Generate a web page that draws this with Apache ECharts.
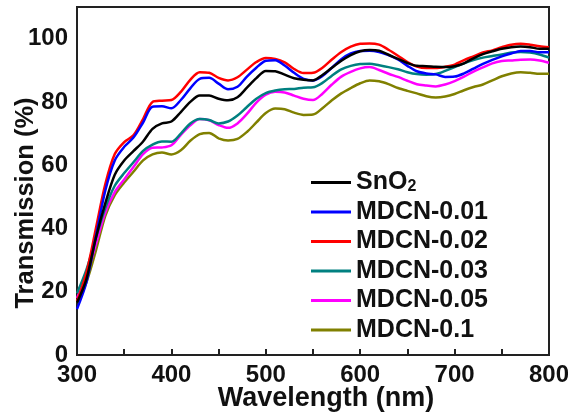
<!DOCTYPE html>
<html>
<head>
<meta charset="utf-8">
<script src="https://cdn.jsdelivr.net/npm/echarts@6/dist/echarts.min.js"></script>
<style>html,body{margin:0;padding:0;background:#fff}#c{width:568px;height:417px}</style>
</head>
<body>
<div id="c"></div>
<script>
const wavelength = [300,310,320,330,340,350,360,370,380,390,400,410,420,430,440,450,460,470,480,490,500,510,520,530,540,550,560,570,580,590,600,610,620,630,640,650,660,670,680,690,700,710,720,730,740,750,760,770,780,790,800];
const seriesNames = ['SnO2','MDCN-0.01','MDCN-0.02','MDCN-0.03','MDCN-0.05','MDCN-0.1'];
const sno2 = [16.5,24,37,48,57,61.5,64.5,67.5,71.5,73.2,73.8,76.8,80,82,82,81,80.5,81.5,84.5,87.5,89.8,89.7,88.6,87.5,87,86.8,88.5,90.8,93,94.8,96,96.4,96.2,94.9,93.6,92.3,91.4,91.3,91.1,91,91.3,92.2,93.8,95.1,96,96.8,97.3,97.5,97.3,96.8,96.8];
const mdcn001 = [14.5,23,37.5,52,61.5,65.8,68.8,73.5,78.5,78.6,78,80.6,84.3,87.3,87.6,85.8,84,84.8,88,90.8,93,93.2,91.5,89.2,87.3,86.8,88.2,90.8,93.5,95.3,96.1,96.2,95.8,94.8,93.4,91.4,89.7,89,88.7,87.9,88,89,90.5,92,93.3,94.4,95.3,96.1,96.1,95.7,95.7];
const mdcn002 = [17,26,40,54,63.5,67.3,69.5,74.6,80,80.4,80.6,83.2,87,89.4,89.2,87.6,86.8,87.8,90.2,92.6,93.9,93.6,92.5,90.4,89.1,89.2,90.8,93.4,95.8,97.5,98.4,98.5,98.1,96.5,94.6,92.6,91.2,90.7,90.7,91.1,91.8,93.2,94.4,95.6,96.3,97.3,98.1,98.4,98.1,97.6,97.3];
const mdcn003 = [19.5,27,37,46.5,53.5,57.5,61,64.5,66.5,67.5,67.4,70,73.2,74.6,74.3,73.2,73.8,75.7,78.4,81,82.8,83.6,84,84.1,84.5,84.6,86,88.3,90.3,91.4,92,92.1,91.6,91,90.3,89.4,88.8,88.6,88.8,89.8,91,92.2,93.2,94,94.5,95,95.6,95.8,95.6,95,94];
const mdcn005 = [18,25,35,45,51.5,55.5,59.5,63.5,65.5,65.6,66.3,69.6,72.6,74.6,74.2,72.7,71.8,73.2,76.2,79.8,82.3,83.2,83,82,81,80.6,82.6,85.5,88,89.5,90.6,91,90.1,88.9,87.9,86.7,85.6,85.2,84.9,85.5,86.6,88,89.6,90.9,92.2,92.9,93.1,93.3,93.4,93.1,92.4];
const mdcn01 = [16.5,23,33,44,50.5,54.5,58,61.5,63.4,64,63.4,64.7,67.7,69.8,70.2,68.5,67.8,68.3,70.5,73.5,76.5,77.9,77.7,76.6,75.9,76,78,80.5,82.7,84.4,85.9,86.8,86.5,85.6,84.4,83.5,82.7,81.8,81.4,81.7,82.5,83.7,84.7,85.5,86.8,88.1,89,89.4,89.2,88.9,88.9];
const colors = ['#000000','#0000ff','#ff0000','#008080','#ff00ff','#808000'];
const allData = [sno2, mdcn001, mdcn002, mdcn003, mdcn005, mdcn01];

const chart = echarts.init(document.getElementById('c'), null, {renderer:'canvas'});
const font = 'Liberation Sans, Arial, sans-serif';
chart.setOption({
  animation: false,
  grid: {left: 77, right: 19, top: 7, bottom: 62, containLabel: false, outerBoundsMode: 'none', show: true, borderColor: '#222', borderWidth: 2, backgroundColor: 'transparent'},
  legend: {
    orient: 'vertical', left: 306, top: 165, itemWidth: 40, itemHeight: 3, itemGap: 4.5, icon: 'rect',
    data: seriesNames,
    formatter: n => n === 'SnO2' ? '{b|SnO}{s|2}' : '{b|' + n + '}',
    textStyle: {
      lineHeight: 25,
      rich: {
        b: {fontFamily: font, fontWeight: 'bold', fontSize: 25, color: '#111', lineHeight: 25},
        s: {fontFamily: font, fontWeight: 'bold', fontSize: 16, color: '#111', lineHeight: 25, verticalAlign: 'bottom', padding: [8,0,0,0]}
      }
    }
  },
  xAxis: {
    type: 'value', min: 300, max: 800, interval: 50,
    name: 'Wavelength (nm)', nameLocation: 'middle', nameGap: 30, nameMoveOverlap: false,
    nameTextStyle: {fontFamily: font, fontWeight: 'bold', fontSize: 27, color: '#111', padding: [0,0,0,26]},
    axisLine: {lineStyle: {color: '#222', width: 2}},
    axisTick: {inside: true, length: 6, lineStyle: {color: '#222', width: 2}},
    axisLabel: {fontFamily: font, fontWeight: 'bold', fontSize: 24, color: '#111', margin: 8,
      formatter: v => (v % 100 === 0 ? String(v) : '')},
    splitLine: {show: false}
  },
  yAxis: {
    type: 'value', min: 0, max: 110, interval: 20,
    name: 'Transmission (%)', nameLocation: 'middle', nameGap: 38, nameMoveOverlap: false,
    nameTextStyle: {fontFamily: font, fontWeight: 'bold', fontSize: 25.5, color: '#111', padding: [0,44,0,0]},
    axisLine: {lineStyle: {color: '#222', width: 2}},
    axisTick: {show: false},
    axisLabel: {fontFamily: font, fontWeight: 'bold', fontSize: 24, color: '#111', margin: 9, showMaxLabel: false,
      formatter: v => (v > 100 ? '' : String(v))},
    splitLine: {show: false}
  },
  series: seriesNames.map((n, i) => ({
    name: n, type: 'line', showSymbol: false, smooth: 0.3,
    data: wavelength.map((w, k) => [w, allData[i][k]]),
    lineStyle: {color: colors[i], width: 2.5},
    itemStyle: {color: colors[i]},
    z: 10 - i
  }))
});
</script>
</body>
</html>
